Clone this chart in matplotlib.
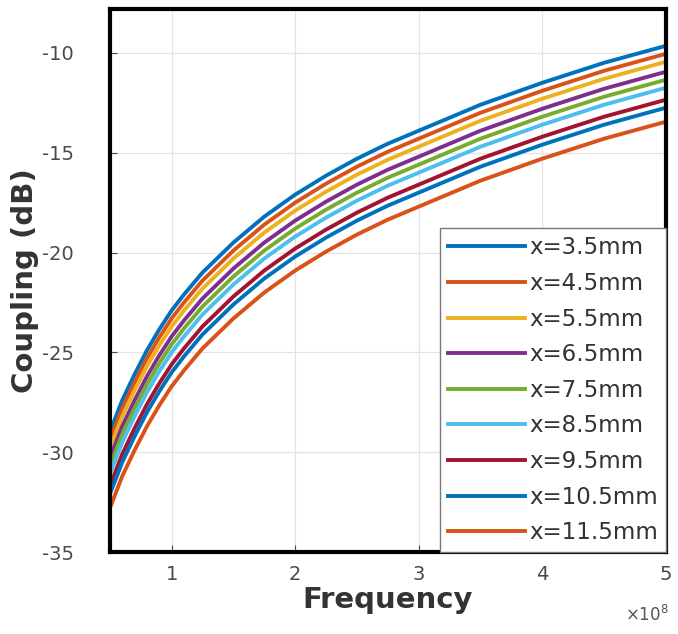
import matplotlib
matplotlib.use("Agg")
import matplotlib.pyplot as plt

# frequency in units of 1e8 Hz
freq = [0.5, 0.6, 0.7, 0.8, 0.9, 1.0, 1.1, 1.25, 1.5, 1.75, 2.0, 2.25, 2.5, 2.75, 3.0, 3.5, 4.0, 4.5, 5.0]

labels = ["x=3.5mm", "x=4.5mm", "x=5.5mm", "x=6.5mm", "x=7.5mm",
          "x=8.5mm", "x=9.5mm", "x=10.5mm", "x=11.5mm"]

c35 = [-29.0, -27.4, -26.1, -24.9, -23.85, -22.9, -22.1, -21.0, -19.5, -18.2, -17.1, -16.15, -15.3, -14.55, -13.9, -12.6, -11.5, -10.5, -9.65]
c45 = [-29.4, -27.8, -26.5, -25.3, -24.25, -23.3, -22.5, -21.4, -19.9, -18.6, -17.5, -16.55, -15.7, -14.95, -14.3, -13.0, -11.9, -10.9, -10.05]
c55 = [-29.8, -28.2, -26.9, -25.7, -24.65, -23.7, -22.9, -21.8, -20.3, -19.0, -17.9, -16.95, -16.1, -15.35, -14.7, -13.4, -12.3, -11.3, -10.45]
c65 = [-30.3, -28.7, -27.4, -26.2, -25.15, -24.2, -23.4, -22.3, -20.8, -19.5, -18.4, -17.45, -16.6, -15.85, -15.2, -13.9, -12.8, -11.8, -10.95]
c75 = [-30.7, -29.1, -27.8, -26.6, -25.55, -24.6, -23.8, -22.7, -21.2, -19.9, -18.8, -17.85, -17.0, -16.25, -15.6, -14.3, -13.2, -12.2, -11.35]
c85 = [-31.1, -29.5, -28.2, -27.0, -25.95, -25.0, -24.2, -23.1, -21.6, -20.3, -19.2, -18.25, -17.4, -16.65, -16.0, -14.7, -13.6, -12.6, -11.75]
c95 = [-31.7, -30.1, -28.8, -27.6, -26.55, -25.6, -24.8, -23.7, -22.2, -20.9, -19.8, -18.85, -18.0, -17.25, -16.6, -15.3, -14.2, -13.2, -12.35]
c105 = [-32.1, -30.5, -29.2, -28.0, -26.95, -26.0, -25.2, -24.1, -22.6, -21.3, -20.2, -19.25, -18.4, -17.65, -17.0, -15.7, -14.6, -13.6, -12.75]
c115 = [-32.8, -31.2, -29.9, -28.7, -27.65, -26.7, -25.9, -24.8, -23.3, -22.0, -20.9, -19.95, -19.1, -18.35, -17.7, -16.4, -15.3, -14.3, -13.45]

curves = [c35, c45, c55, c65, c75, c85, c95, c105, c115]

# matlab default color order
colors = ["#0072BD", "#D95319", "#EDB120", "#7E2F8E", "#77AC30",
          "#4DBEEE", "#A2142F", "#0072BD", "#D95319"]

fig = plt.figure(figsize=(6.78, 6.34), dpi=100)
ax = fig.add_axes([0.162, 0.129, 0.82, 0.857])

for y, c, lab in zip(curves, colors, labels):
    ax.plot(freq, y, color=c, lw=2.8, label=lab, solid_joinstyle="round")

ax.set_xlim(0.5, 5)
ax.set_ylim(-35, -7.8)
ax.set_xticks([1, 2, 3, 4, 5])
ax.set_yticks([-35, -30, -25, -20, -15, -10])
ax.set_xticklabels(["1", "2", "3", "4", "5"])
ax.set_yticklabels(["-35", "-30", "-25", "-20", "-15", "-10"])

ax.grid(True, color="#e3e3e3", lw=0.9)
ax.set_axisbelow(True)
for s in ax.spines.values():
    s.set_linewidth(3)
    s.set_color("black")

ax.tick_params(axis="both", direction="in", length=5, labelsize=14, colors="#4a4a4a")
ax.tick_params(axis="y", pad=26)
ax.tick_params(axis="x", pad=9)

ax.set_xlabel("Frequency", fontsize=21, fontweight="bold", color="#333333", labelpad=2)
ax.set_ylabel("Coupling (dB)", fontsize=21, fontweight="bold", color="#333333", labelpad=2)

ax.text(1.005, -0.115, r"$\times10^8$", transform=ax.transAxes, ha="right", va="center",
        fontsize=12, color="#555555")

leg = ax.legend(loc="lower right", fontsize=16.5, handlelength=3.4, handletextpad=0.15,
                labelspacing=0.55, borderpad=0.35, borderaxespad=0.0, fancybox=False,
                framealpha=1, edgecolor="#777777")
leg.get_frame().set_linewidth(1)
for t in leg.get_texts():
    t.set_color("#333333")

fig.savefig("out.png", dpi=100)
